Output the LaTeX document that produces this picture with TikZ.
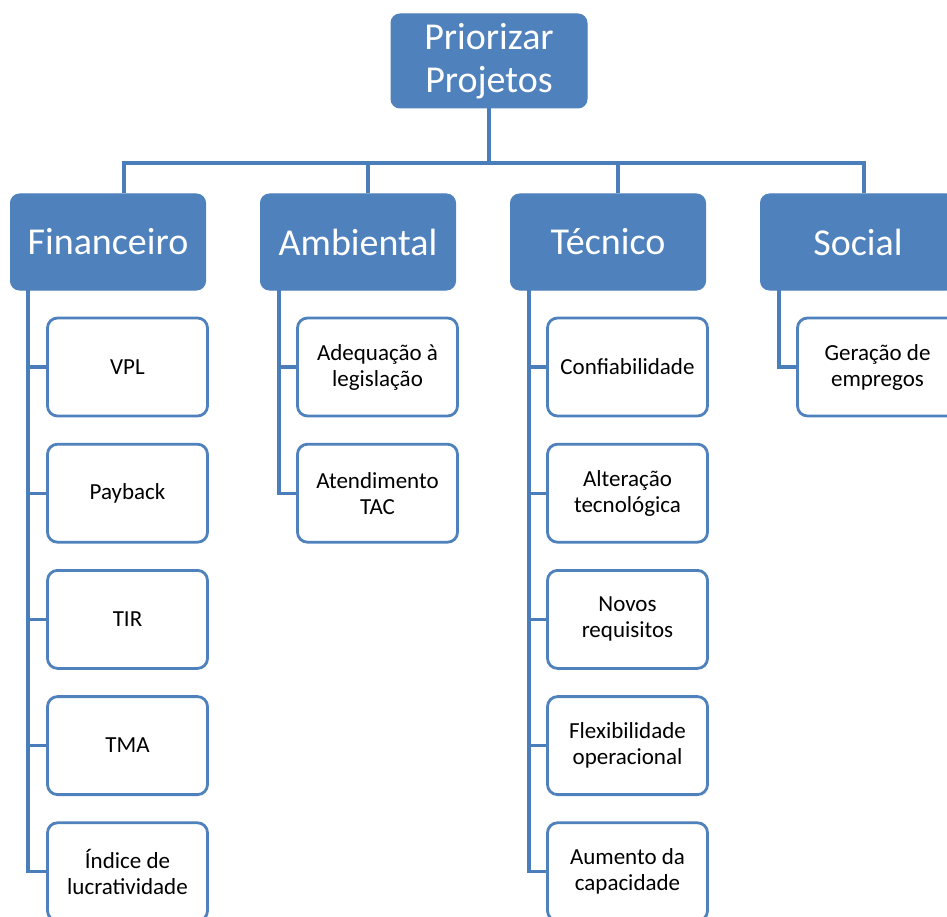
\documentclass[tikz,border=0pt]{standalone}
\usepackage{fontspec}
\setmainfont{Carlito}
\usepackage{tikz}
\usetikzlibrary{positioning, calc}
\definecolor{boxblue}{HTML}{4F81BD}
\definecolor{linkblue}{HTML}{4A7EBB}
\tikzstyle{catbox} = [rectangle, draw=boxblue, fill=boxblue, text=white, rounded corners=9pt, minimum width=195pt, minimum height=96pt, font=\fontsize{38}{43}\selectfont, align=center, line width=1pt]
\tikzstyle{itembox} = [rectangle, draw=boxblue, fill=white, text=black, rounded corners=10pt, minimum width=160pt, minimum height=98pt, font=\fontsize{23}{26}\selectfont, align=center, line width=2.8pt]
\tikzstyle{link} = [draw=linkblue, line width=3.2pt]

\begin{document}
\begin{tikzpicture}[x=1pt,y=-1pt,node distance=25.4pt]
\useasboundingbox (0,0) rectangle (947,917);
\clip (0,0) rectangle (947,917);

% root and categories
\node[catbox, minimum width=196pt, minimum height=94pt] (root) at (489,61) {Priorizar\\Projetos};
\node[catbox] (fin) at (108,242) {Financeiro};
\node[catbox] (amb) at (358,242) {Ambiental};
\node[catbox] (tec) at (608,242) {Técnico};
\node[catbox] (soc) at (858,242) {Social};

\coordinate (bus) at (0,163);
\draw[link] (root.south) -- (root.south |- bus);
\draw[link] (fin.north -| 124,0) |- (bus -| 864,0) -- (soc.north -| 864,0);
\draw[link] (amb.north -| 368,0) -- (bus -| 368,0);
\draw[link] (tec.north -| 618,0) -- (bus -| 618,0);

% Financeiro
\node[itembox] (vpl) at (127.5,367) {VPL};
\node[itembox, below=of vpl] (payback) {Payback};
\node[itembox, below=of payback] (tir) {TIR};
\node[itembox, below=of tir] (tma) {TMA};
\node[itembox, below=of tma] (indice) {Índice de\\lucratividade};

% Ambiental
\node[itembox] (adeq) at (377.5,367) {Adequação à\\legislação};
\node[itembox, below=of adeq] (tac) {Atendimento\\TAC};

% Tecnico
\node[itembox] (conf) at (627.5,367) {Confiabilidade};
\node[itembox, below=of conf] (alter) {Alteração\\tecnológica};
\node[itembox, below=of alter] (novos) {Novos\\requisitos};
\node[itembox, below=of novos] (flex) {Flexibilidade\\operacional};
\node[itembox, below=of flex] (aum) {Aumento da\\capacidade};

% Social
\node[itembox] (ger) at (877.5,367) {Geração de\\empregos};

\coordinate (finrail) at (28,290);
\coordinate (ambrail) at (279,290);
\coordinate (tecrail) at (529,290);
\coordinate (socrail) at (779,290);

\foreach \item in {vpl,payback,tir,tma,indice}
  \draw[link] (finrail) |- (\item.west);
\foreach \item in {adeq,tac}
  \draw[link] (ambrail) |- (\item.west);
\foreach \item in {conf,alter,novos,flex,aum}
  \draw[link] (tecrail) |- (\item.west);
\draw[link] (socrail) |- (ger.west);
\end{tikzpicture}
\end{document}
